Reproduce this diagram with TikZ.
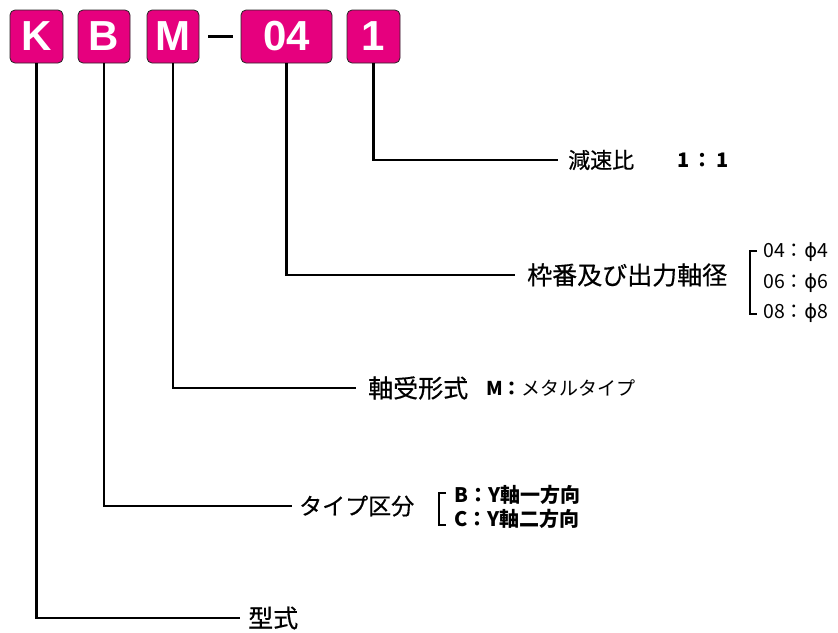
\documentclass[tikz,border=0pt]{standalone}
\usepackage{fontspec}
\setmainfont{Liberation Sans}
\newfontfamily\jp{Noto Sans CJK JP}
\newfontfamily\jpm{Noto Sans CJK JP}[FakeBold=0.5]
\newfontfamily\dv{DejaVu Sans}
\definecolor{boxmag}{HTML}{E6007E}
\newcommand{\phis}{{\dv ϕ}}
\begin{document}
\begin{tikzpicture}[x=1pt,y=-1pt,
  codebox/.style={draw=black!85,line width=0.8pt,fill=boxmag,rounded corners=5pt,
    minimum height=53pt,inner sep=0pt,text=white,
    font=\fontsize{42}{42}\selectfont\bfseries},
  lbl/.style={anchor=west,inner sep=0pt,font=\jpm\fontsize{25}{25}\selectfont},
  sub/.style={anchor=west,inner sep=0pt,font=\jp\fontsize{19.5}{19.5}\selectfont},
  subb/.style={anchor=west,inner sep=0pt,font=\jp\bfseries\fontsize{20}{20}\selectfont},
  conn/.style={line width=2.4pt},
  brk/.style={line width=2.2pt}]
\useasboundingbox (0,0) rectangle (838,632);
% code boxes
\node[codebox,minimum width=53pt] (K) at (36.5,36.5) {K};
\node[codebox,minimum width=52pt] (B) at (104,36.5) {B};
\node[codebox,minimum width=52pt] (M) at (173,36.5) {M};
\node[codebox,minimum width=91pt] (N04) at (286.5,36.5) {04};
\node[codebox,minimum width=53pt] (N1) at (373.5,36.5) {1};
\coordinate (d1) at (208,36.5);
\coordinate (d2) at (233,36.5);
\draw[line width=2.6pt] (d1) -- (d2);
% labels
\node[lbl,font=\jpm\fontsize{22}{22}\selectfont] (L1) at (568,160) {減速比};
\node[subb] (R1) at (677,160) {1\,：\,1};
\node[lbl] (L04) at (527,275) {枠番及び出力軸径};
\node[sub] (s04) at (763,252) {04：\phis4};
\node[sub] (s06) at (763,283) {06：\phis6};
\node[sub] (s08) at (763,313) {08：\phis8};
\node[lbl] (LM) at (368,388) {軸受形式};
\node[subb,font=\jp\bfseries\fontsize{19}{19}\selectfont] (sM) at (486,388) {M：\mdseries\fontsize{19}{19}\selectfont メタルタイプ};
\node[lbl,font=\jpm\fontsize{23}{23}\selectfont] (LB) at (299,506) {タイプ区分};
\node[subb] (sB) at (454,495) {B：Y軸一方向};
\node[subb] (sC) at (454,519) {C：Y軸二方向};
\node[lbl] (LK) at (248,618) {型式};
% brackets
\draw[brk] (757,251) -- (750,251) -- (750,314) -- (757,314);
\draw[brk] (446,493) -- (439,493) -- (439,525) -- (446,525);
% connectors
\draw[conn] (N1.south) |- ([xshift=-10pt]L1.west);
\draw[conn] (N04.south) |- ([xshift=-12pt]L04.west);
\draw[conn] (M.south) |- ([xshift=-12pt]LM.west);
\draw[conn] (B.south) |- ([xshift=-7pt]LB.west);
\draw[conn] (K.south) |- ([xshift=-8pt]LK.west);
\end{tikzpicture}
\end{document}
